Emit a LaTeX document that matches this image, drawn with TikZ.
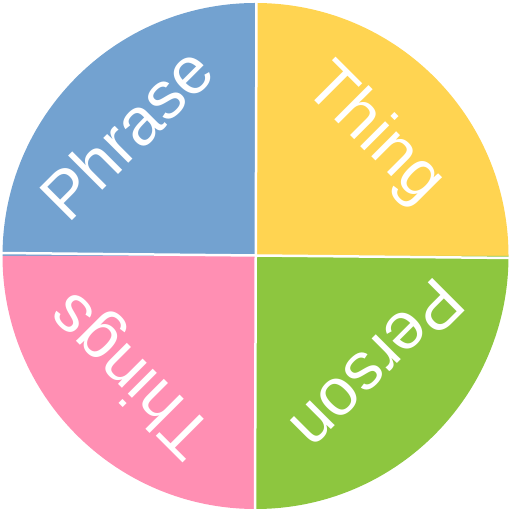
\documentclass[tikz,border=0pt]{standalone}
\usepackage{fontspec}
\setmainfont{Liberation Sans}
\definecolor{qblue}{HTML}{73A2D0}
\definecolor{qyellow}{HTML}{FFD451}
\definecolor{qpink}{HTML}{FF8FB3}
\definecolor{qgreen}{HTML}{8DC63F}
\begin{document}
\begin{tikzpicture}[x=1bp,y=1bp,
  lbl/.style={text=white,font=\fontsize{67}{67}\selectfont,inner sep=0pt},
  gap/.style={draw=white,line width=2.5bp}]
\useasboundingbox (0,0) rectangle (512,512);
\coordinate (c) at (255.5,256);
\fill[qblue]   (c) -- ++(180:253) arc[start angle=180,end angle=90,radius=253] -- cycle;
\fill[qyellow] (c) -- ++(90:253) arc[start angle=90,end angle=0,radius=253] -- cycle;
\fill[qgreen]  (c) -- ++(0:253) arc[start angle=0,end angle=-90,radius=253] -- cycle;
\fill[qpink]   (c) -- ++(-90:253) arc[start angle=-90,end angle=-180,radius=253] -- cycle;
\coordinate (l) at (0,259);
\coordinate (r) at (512,254);
\coordinate (t) at (256.5,512);
\coordinate (b) at (255,0);
\draw[gap] (l) -- (r);
\draw[gap] (t) -- (b);
\node[lbl,rotate=45]   (phrase) at (126,379) {Phrase};
\node[lbl,rotate=-45]  (thing)  at (374,377) {Thing};
\node[lbl,rotate=-135] (person) at (378,147) {Person};
\node[lbl,rotate=135]  (things) at (133,139) {Things};
\end{tikzpicture}
\end{document}
